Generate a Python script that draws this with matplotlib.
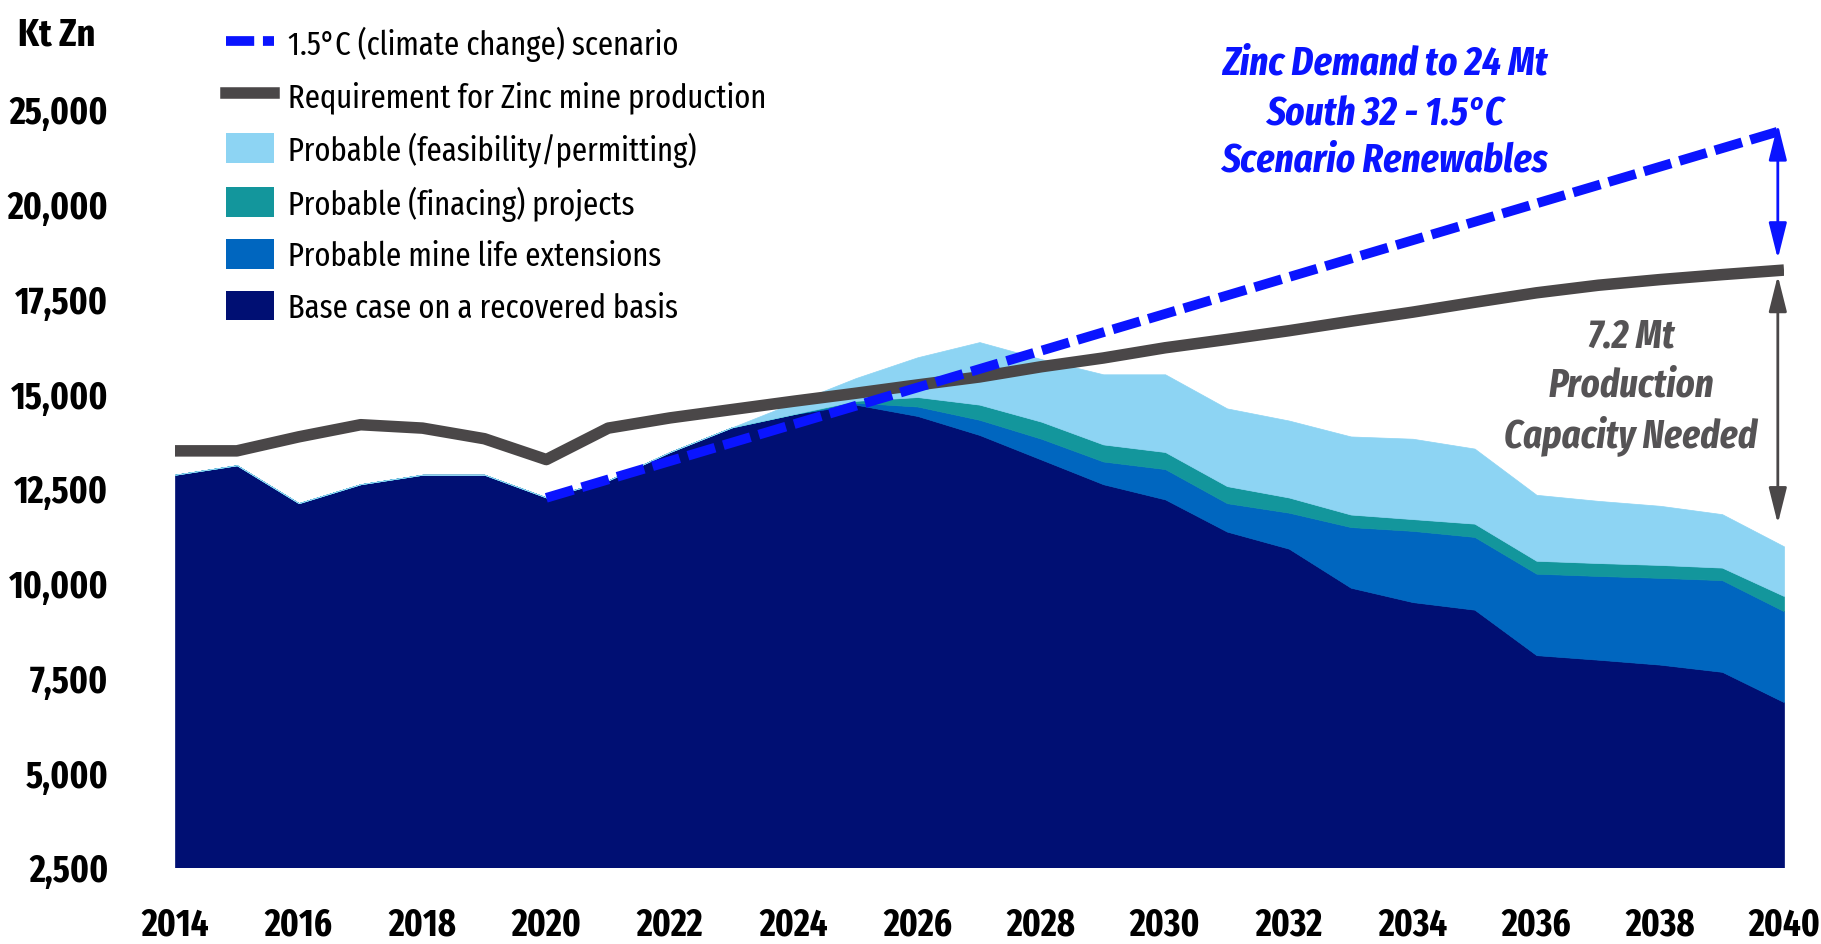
import numpy as np
import matplotlib
matplotlib.use('Agg')
import matplotlib.pyplot as plt
from matplotlib import font_manager as fm
from matplotlib.lines import Line2D
from matplotlib.patches import Patch
from matplotlib.ticker import FuncFormatter

# data (kt Zn)
years = np.arange(2014, 2041)
base_case = [12850, 13100, 12100, 12600, 12850, 12850, 12250, 12700, 13450, 14100,
             14450, 14700, 14400, 13900, 13250, 12600, 12200, 11350, 10900, 9870,
             9490, 9290, 8090, 7970, 7840, 7650, 6850]
mine_ext = [0, 0, 0, 0, 0, 0, 0, 0, 0, 0,
            0, 50, 250, 400, 550, 600, 800, 750, 950, 1600,
            1880, 1920, 2150, 2210, 2290, 2420, 2400]
financing = [0, 0, 0, 0, 0, 0, 0, 0, 0, 0,
             0, 50, 250, 400, 450, 450, 450, 450, 400, 330,
             310, 350, 340, 340, 340, 330, 400]
feasibility = [0, 0, 0, 0, 0, 0, 0, 0, 0, 0,
               300, 600, 1050, 1650, 1650, 1850, 2050, 2050, 2030, 2060,
               2120, 1980, 1740, 1640, 1560, 1410, 1310]
requirement = [13480, 13480, 13850, 14170, 14080, 13800, 13250, 14080, 14350, 14570,
               14790, 15000, 15220, 15430, 15700, 15930, 16200, 16420, 16650, 16900,
               17140, 17400, 17650, 17850, 18000, 18130, 18250]
scenario_years = [2020, 2040]
scenario = [12240, 23900]

layer_labels = ['Base case on a recovered basis', 'Probable mine life extensions',
                'Probable (finacing) projects', 'Probable (feasibility/permitting)']
layer_colors = ['#000f73', '#0066bf', '#13969c', '#8dd4f3']
yticks = [2500, 5000, 7500, 10000, 12500, 15000, 17500, 20000, 25000]
xticks = list(range(2014, 2041, 2))

BLUE = '#0a14ff'
GREY = '#4a4748'


def has_face(name, weight, styles):
    for f in fm.fontManager.ttflist:
        try:
            w = int(f.weight)
        except (TypeError, ValueError):
            continue
        if f.name == name and f.style in styles and abs(w - weight) <= 100:
            return True
    return False


def pick(weight, styles):
    cands = ['Liberation Sans Narrow', 'Arial Narrow', 'Fira Sans Extra Condensed',
             'Roboto Condensed', 'IBM Plex Sans Condensed', 'Barlow Condensed',
             'PT Sans Narrow']
    for c in cands:
        if has_face(c, weight, styles):
            return [c, 'DejaVu Sans']
    return ['Liberation Sans', 'DejaVu Sans']


F_REG = pick(400, ('normal',))
F_BOLD = pick(700, ('normal',))
F_BI = pick(700, ('italic', 'oblique'))


# the original axis jumps from 20,000 to 25,000 in one step
def fwd(v):
    v = np.asarray(v, dtype=float)
    return np.where(v <= 20000, v, 20000 + (v - 20000) / 2)


def inv(t):
    t = np.asarray(t, dtype=float)
    return np.where(t <= 20000, t, 20000 + (t - 20000) * 2)


W, H = 1821, 945
x0, x1 = 175, 1784          # pixel columns of 2014 and 2040
ybot, ytop25 = 868, 110     # pixel rows of 2,500 and the "25,000" tick
ppu = (ybot - ytop25) / 20000.0
t_top = 22500 + ytop25 / ppu

fig = plt.figure(figsize=(W / 100, H / 100), dpi=100)
ax = fig.add_axes([x0 / W, 1 - ybot / H, (x1 - x0) / W, ybot / H])
ax.set_yscale('function', functions=(fwd, inv))

ax.stackplot(years, base_case, mine_ext, financing, feasibility,
             colors=layer_colors, edgecolor='face', linewidth=0.5, zorder=1)
ax.plot(years, requirement, color=GREY, lw=8.3, solid_capstyle='butt', zorder=3)
ax.plot(scenario_years, scenario, color=BLUE, lw=7, dashes=(2.9, 0.9),
        dash_capstyle='butt', zorder=4)

ax.set_xlim(2014, 2040)
ax.set_ylim(2500, float(inv(t_top)))
ax.set_xticks(xticks)
ax.set_yticks(yticks)
ax.yaxis.set_major_formatter(FuncFormatter(lambda v, p: f'{v:,.0f}'))
ax.tick_params(length=0, labelsize=27)
ax.tick_params(axis='x', pad=28)
ax.tick_params(axis='y', pad=48)
for lab in ax.get_xticklabels() + ax.get_yticklabels():
    lab.set_fontweight('bold')
    lab.set_family(F_BOLD)
for s in ax.spines.values():
    s.set_visible(False)

# arrows at the 2040 end
astyle = '<|-|>,head_length=1.0,head_width=0.25'
ax.annotate('', xy=(2039.9, 24210), xytext=(2039.9, 18546),
            arrowprops=dict(arrowstyle=astyle, color=BLUE, lw=2, mutation_scale=22,
                            shrinkA=0, shrinkB=0), zorder=5)
ax.annotate('', xy=(2039.9, 18105), xytext=(2039.9, 11557),
            arrowprops=dict(arrowstyle=astyle, color=GREY, lw=2, mutation_scale=22,
                            shrinkA=0, shrinkB=0), zorder=5)

zinc_lines = ['Zinc Demand to 24 Mt', 'South 32 - 1.5°C', 'Scenario Renewables']
for txt, yb in zip(zinc_lines, [75, 125, 172]):
    fig.text(1385 / W, 1 - yb / H, txt, ha='center', va='baseline', color=BLUE,
             fontsize=29, fontweight='bold', fontstyle='italic', family=F_BI)
gap_lines = ['7.2 Mt', 'Production', 'Capacity Needed']
for txt, yb in zip(gap_lines, [348, 397, 447]):
    fig.text(1631 / W, 1 - yb / H, txt, ha='center', va='baseline', color='#555355',
             fontsize=28.5, fontweight='bold', fontstyle='italic', family=F_BI)
fig.text(57 / W, 1 - 35 / H, 'Kt Zn', ha='center', va='center',
         fontsize=28, fontweight='bold', family=F_BOLD)

handles = [Line2D([], [], color=BLUE, lw=7, dashes=(2.9, 0.9), dash_capstyle='butt'),
           Line2D([], [], color=GREY, lw=8.3)]
handles += [Patch(facecolor=c) for c in layer_colors[::-1]]
labels = ['1.5°C (climate change) scenario', 'Requirement for Zinc mine production'] + layer_labels[::-1]
fig.legend(handles, labels, loc='upper left', bbox_to_anchor=(226 / W, 1 - 27 / H),
           frameon=False, prop=fm.FontProperties(family=F_REG, size=24),
           handlelength=1.45, handleheight=0.98, handletextpad=0.42,
           labelspacing=0.56, borderpad=0, borderaxespad=0)

fig.savefig('out.png', dpi=100)
